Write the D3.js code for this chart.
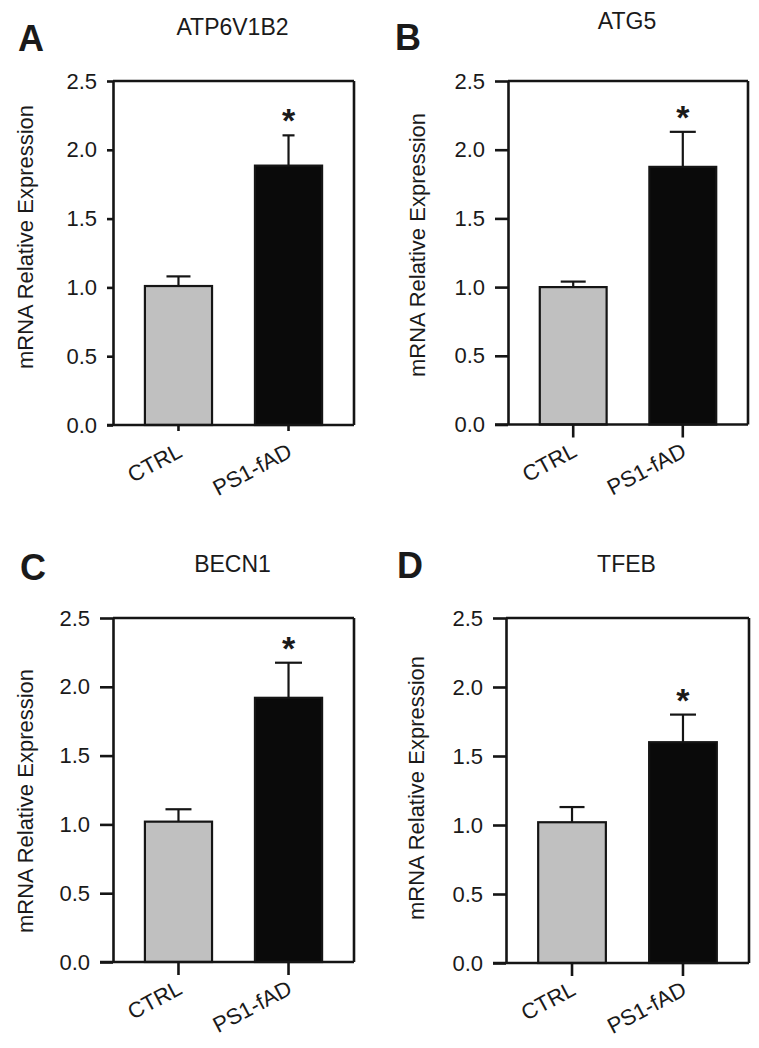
<!DOCTYPE html>
<html>
<head>
<meta charset="utf-8">
<script src="https://cdn.jsdelivr.net/npm/d3@7"></script>
<style>
  html, body { margin: 0; padding: 0; background: #fff; }
  svg { display: block; }
  text { font-family: "Liberation Sans", Arial, Helvetica, sans-serif; fill: #1a1a1a; }
</style>
</head>
<body>
<svg id="chart" width="759" height="1048"></svg>
<script>
// ---- data ----
const categories = ["CTRL", "PS1-fAD"];
const genes = ["ATP6V1B2", "ATG5", "BECN1", "TFEB"];
const panelLetters = ["A", "B", "C", "D"];
const ctrlMean = [1.01, 1.00, 1.02, 1.02];
const ctrlSEM  = [0.07, 0.04, 0.09, 0.11];
const fadMean  = [1.885, 1.875, 1.92, 1.60];
const fadSEM   = [0.22, 0.255, 0.255, 0.20];
const significance = ["*", "*", "*", "*"];
const yTicks = [0, 0.5, 1.0, 1.5, 2.0, 2.5];
const yLabel = "mRNA Relative Expression";

// ---- layout (styles / positions, not data) ----
const layout = [
  {left:113, right:354, top:81,  bottom:425,   tick:6,  caps:[24,12], titleY:35,  letterX:18,  letterY:51,  ylabX:32.5, ylabY:237},
  {left:508, right:748, top:81,  bottom:424.5, tick:13, caps:[25,26], titleY:29,  letterX:395, letterY:50,  ylabX:425,  ylabY:245},
  {left:113, right:354, top:618, bottom:962,   tick:13, caps:[26,27], titleY:572, letterX:20,  letterY:580, ylabX:33,   ylabY:801},
  {left:506, right:749, top:618, bottom:963,   tick:13, caps:[25,26], titleY:572, letterX:397, letterY:578, ylabX:423.5,ylabY:788}
];
const fills = ["#c0c0c0", "#0a0a0a"];
const ink = "#151515";

const svg = d3.select("#chart");

genes.forEach((gene, i) => {
  const L = layout[i];
  const g = svg.append("g");
  const x = d3.scaleBand().domain(categories).range([L.left, L.right])
              .paddingInner(0.39).paddingOuter(0.29);
  const y = d3.scaleLinear().domain([0, 2.5]).range([L.bottom, L.top]);

  const rows = [
    {cat: categories[0], mean: ctrlMean[i], sem: ctrlSEM[i], fill: fills[0], cap: L.caps[0]},
    {cat: categories[1], mean: fadMean[i],  sem: fadSEM[i],  fill: fills[1], cap: L.caps[1]}
  ];

  // error bars (upper only), drawn before bars
  rows.forEach(r => {
    const cx = x(r.cat) + x.bandwidth() / 2;
    g.append("line").attr("x1", cx).attr("x2", cx)
      .attr("y1", y(r.mean)).attr("y2", y(r.mean + r.sem))
      .attr("stroke", ink).attr("stroke-width", 2.2);
    g.append("line").attr("x1", cx - r.cap / 2).attr("x2", cx + r.cap / 2)
      .attr("y1", y(r.mean + r.sem)).attr("y2", y(r.mean + r.sem))
      .attr("stroke", ink).attr("stroke-width", 2.2);
  });

  // bars
  g.selectAll("rect.bar").data(rows).enter().append("rect")
    .attr("class", "bar")
    .attr("x", d => x(d.cat))
    .attr("width", x.bandwidth())
    .attr("y", d => y(d.mean))
    .attr("height", d => y(0) - y(d.mean))
    .attr("fill", d => d.fill)
    .attr("stroke", ink).attr("stroke-width", 2.2);

  // frame top/right
  g.append("line").attr("x1", L.left).attr("x2", L.right).attr("y1", L.top).attr("y2", L.top)
    .attr("stroke", ink).attr("stroke-width", 2.6);
  g.append("line").attr("x1", L.right).attr("x2", L.right).attr("y1", L.top).attr("y2", L.bottom)
    .attr("stroke", ink).attr("stroke-width", 2.6);

  // y axis
  const yAxis = d3.axisLeft(y).tickValues(yTicks).tickFormat(d3.format(".1f"))
                  .tickSizeInner(L.tick).tickSizeOuter(0).tickPadding(10);
  const ya = g.append("g").attr("transform", `translate(${L.left},0)`).call(yAxis);
  ya.select(".domain").attr("stroke", ink).attr("stroke-width", 2.6);
  ya.selectAll(".tick line").attr("stroke", ink).attr("stroke-width", 2.6);
  ya.selectAll(".tick text").attr("font-size", 22).attr("fill", ink)
    .style("font-family", '"Liberation Sans", Arial, sans-serif');

  // x axis
  const xAxis = d3.axisBottom(x).tickSizeInner(L.tick).tickSizeOuter(0).tickFormat(d => d);
  const xa = g.append("g").attr("transform", `translate(0,${L.bottom})`).call(xAxis);
  xa.select(".domain").attr("stroke", ink).attr("stroke-width", 2.6)
    .attr("d", `M${L.left - L.tick},0H${L.right}`);
  xa.selectAll(".tick line").attr("stroke", ink).attr("stroke-width", 2.6);
  xa.selectAll(".tick text")
    .attr("font-size", 22).attr("fill", ink)
    .style("font-family", '"Liberation Sans", Arial, sans-serif')
    .attr("text-anchor", "end")
    .attr("dy", null)
    .attr("y", null)
    .attr("transform", "translate(5,31) rotate(-28)");

  // significance asterisk
  const fadTop = y(fadMean[i] + fadSEM[i]);
  g.append("text")
    .attr("x", x(categories[1]) + x.bandwidth() / 2)
    .attr("y", fadTop - 23 + 20)
    .attr("text-anchor", "middle")
    .attr("font-size", 34).attr("font-weight", "bold")
    .text(significance[i]);

  // title
  g.append("text")
    .attr("x", (L.left + L.right) / 2 - 1)
    .attr("y", L.titleY)
    .attr("text-anchor", "middle")
    .attr("font-size", 23)
    .text(gene);

  // panel letter
  g.append("text")
    .attr("x", L.letterX).attr("y", L.letterY)
    .attr("font-size", 36).attr("font-weight", "bold")
    .text(panelLetters[i]);

  // y label
  g.append("text")
    .attr("transform", `translate(${L.ylabX},${L.ylabY}) rotate(-90)`)
    .attr("text-anchor", "middle")
    .attr("font-size", 22)
    .text(yLabel);
});
</script>
</body>
</html>
